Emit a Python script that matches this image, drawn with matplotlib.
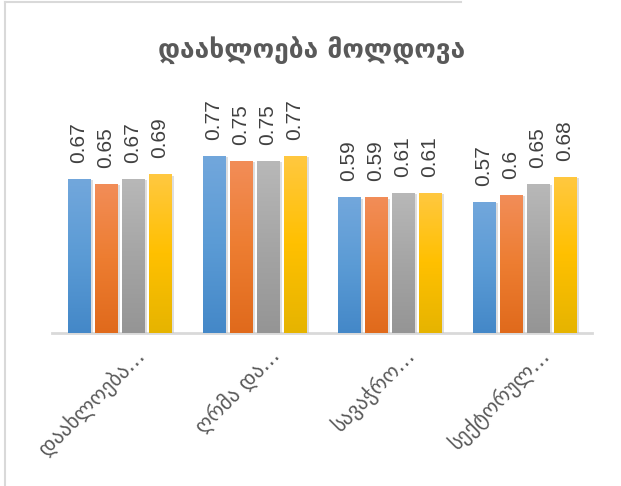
import numpy as np
import matplotlib.pyplot as plt
from matplotlib.lines import Line2D
from matplotlib.colors import LinearSegmentedColormap
import matplotlib.patheffects as pe
import matplotlib.transforms as mtransforms

title = 'დაახლოება მოლდოვა'
categories = ['დაახლოება…', 'ღრმა და…', 'სავაჭრო…', 'სექტორულ…']
series_1 = [0.67, 0.77, 0.59, 0.57]
series_2 = [0.65, 0.75, 0.59, 0.60]
series_3 = [0.67, 0.75, 0.61, 0.65]
series_4 = [0.69, 0.77, 0.61, 0.68]
labels_2 = ['0.65', '0.75', '0.59', '0.6']

# gradient colours (top, middle, bottom) per series
grads = [
    ['#72a7dc', '#5b9bd5', '#4488c8'],
    ['#f28d58', '#ed7d31', '#e06a1c'],
    ['#b8b8b8', '#a5a5a5', '#959595'],
    ['#ffc840', '#ffc000', '#e6b400'],
]

W, H = 621, 486
fig = plt.figure(figsize=(W / 100, H / 100), dpi=100)
ax = fig.add_axes([52 / W, (H - 333) / H, 540 / W, 230 / H])

x = np.arange(len(categories))
pitch = 0.2
width = 0.17
all_series = [series_1, series_2, series_3, series_4]

for k, vals in enumerate(all_series):
    bars = ax.bar(x + (k - 1.5) * pitch, vals, width, color='none',
                  edgecolor='none', zorder=3)
    cmap = LinearSegmentedColormap.from_list('g%d' % k, grads[k][::-1])
    for b, v in zip(bars, vals):
        x0, y0 = b.get_x(), b.get_y()
        w, h = b.get_width(), b.get_height()
        # shadow
        ax.add_patch(plt.Rectangle((x0, y0), w, h, facecolor='#c8c8c8',
                                   edgecolor='none', zorder=2,
                                   path_effects=[pe.withSimplePatchShadow(
                                       offset=(2, -1), shadow_rgbFace='#bfbfbf', alpha=0.5)]))
        grad = np.linspace(0, 1, 100).reshape(-1, 1)
        im = ax.imshow(grad, extent=[x0, x0 + w, y0, y0 + h], origin='lower',
                       cmap=cmap, aspect='auto', zorder=3)
        im.set_clip_path(b)
    txt = labels_2 if k == 1 else ['%g' % v for v in vals]
    for xi, v, t in zip(x + (k - 1.5) * pitch, vals, txt):
        ax.annotate(t, (xi, v), xytext=(0, 16), textcoords='offset pixels',
                    rotation=90, ha='center', va='bottom', fontsize=15,
                    family=['Liberation Sans', 'DejaVu Sans'], color='#404040')

ax.set_xlim(-0.5, 3.5)
ax.set_ylim(0, 230 / 229.9)
ax.set_yticks([])
for s in ['top', 'right', 'left']:
    ax.spines[s].set_visible(False)
ax.spines['bottom'].set_color('#d9d9d9')
ax.spines['bottom'].set_linewidth(2)
ax.spines['bottom'].set_zorder(1)
ax.set_xticks(x)
ax.set_xticklabels(categories, rotation=45, ha='right', va='top',
                   rotation_mode='anchor', fontsize=15, color='#595959')
ax.tick_params(axis='x', length=0, pad=8)
offset = mtransforms.ScaledTranslation(14 / 100, 0, fig.dpi_scale_trans)
for lab in ax.get_xticklabels():
    lab.set_transform(lab.get_transform() + offset)

fig.text(312 / W, 1 - 50 / H, title, ha='center', va='center',
         fontsize=19, fontweight='bold', color='#595959')

# chart frame
fig.add_artist(Line2D([5 / W, 5 / W], [0, 1 - 2 / H], color='#d9d9d9', lw=1.5))
fig.add_artist(Line2D([5 / W, 461 / W], [1 - 2 / H, 1 - 2 / H], color='#d9d9d9', lw=1.5))

fig.savefig('out.png', dpi=100)
